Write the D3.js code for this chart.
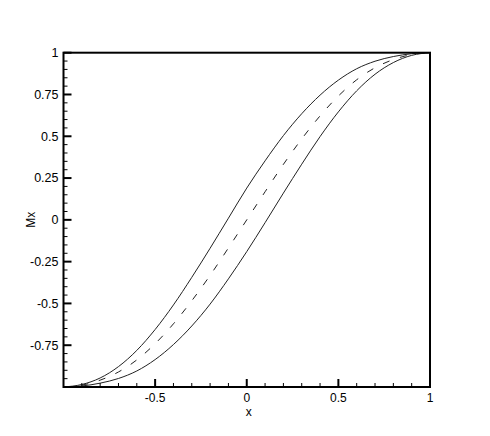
<!DOCTYPE html>
<html><head><meta charset="utf-8">
<script src="https://cdn.jsdelivr.net/npm/d3@7"></script>
<style>
html,body{margin:0;padding:0;background:#fff;}
svg text{font-family:"Liberation Sans",Arial,Helvetica,sans-serif;fill:#000;}
</style></head>
<body><svg id="c" width="490" height="436"></svg>
<script>
// data
const xs = [-1,-0.9,-0.8,-0.7,-0.6,-0.5,-0.4,-0.3,-0.2,-0.1,0,0.1,0.2,0.3,0.4,0.5,0.6,0.7,0.8,0.9,1];
const upperMx  = [-1,-0.985,-0.946,-0.878,-0.781,-0.656,-0.509,-0.344,-0.170,0.010,0.190,0.353,0.504,0.635,0.746,0.836,0.904,0.949,0.977,0.994,1];
const dashedMx = [-1,-0.989,-0.959,-0.910,-0.838,-0.741,-0.622,-0.484,-0.332,-0.168,0,0.168,0.332,0.484,0.622,0.741,0.838,0.910,0.959,0.989,1];
const lowerMx  = [-1,-0.994,-0.977,-0.949,-0.904,-0.836,-0.746,-0.635,-0.504,-0.353,-0.190,-0.017,0.160,0.333,0.498,0.646,0.772,0.871,0.941,0.984,1];
const xTickLabels = [-0.5,0,0.5,1];
const yTickLabels = [-0.75,-0.5,-0.25,0,0.25,0.5,0.75,1];
const xLabel = "x", yLabel = "Mx";

const svg = d3.select("#c");
const L = 63.5, R = 430, T = 52.7, B = 387;
const x = d3.scaleLinear().domain([-1,1]).range([L,R]);
const y = d3.scaleLinear().domain([-1,1]).range([B,T]);

const line = d3.line().x((d,i)=>x(xs[i])).y(d=>y(d)).curve(d3.curveMonotoneX);
const g = svg.append("g");
g.append("path").datum(upperMx).attr("d",line).attr("fill","none").attr("stroke","#222").attr("stroke-width",1);
g.append("path").datum(lowerMx).attr("d",line).attr("fill","none").attr("stroke","#222").attr("stroke-width",1);
g.append("path").datum(dashedMx).attr("d",line).attr("fill","none").attr("stroke","#222").attr("stroke-width",1).attr("stroke-dasharray","7,11");

// minor ticks
const xMinor = d3.range(-9,10).map(v=>v/10).filter(v=>Math.abs(v*2-Math.round(v*2))>1e-9);
const yMinor = d3.range(-19,20).map(v=>v/20).filter(v=>Math.abs(v*4-Math.round(v*4))>1e-9);
const tk = svg.append("g").attr("stroke","#000");
xMinor.forEach(v=>tk.append("line").attr("x1",x(v)).attr("x2",x(v)).attr("y1",B).attr("y2",B-4).attr("stroke-width",1));
yMinor.forEach(v=>tk.append("line").attr("y1",y(v)).attr("y2",y(v)).attr("x1",L).attr("x2",L+4).attr("stroke-width",1));
xTickLabels.forEach(v=>tk.append("line").attr("x1",x(v)).attr("x2",x(v)).attr("y1",B).attr("y2",B-8).attr("stroke-width",2));
yTickLabels.forEach(v=>tk.append("line").attr("y1",y(v)).attr("y2",y(v)).attr("x1",L).attr("x2",L+8).attr("stroke-width",2));

// frame
svg.append("rect").attr("x",L).attr("y",T).attr("width",R-L).attr("height",B-T)
  .attr("fill","none").attr("stroke","#000").attr("stroke-width",2);

// labels
const fmt = v => String(v);
svg.append("g").selectAll("text").data(xTickLabels).join("text")
  .attr("x",d=>x(d)).attr("y",B+15).attr("text-anchor","middle").attr("font-size",12).text(fmt);
svg.append("g").selectAll("text").data(yTickLabels).join("text")
  .attr("x",L-5).attr("y",d=>y(d)).attr("dy","0.35em").attr("text-anchor","end").attr("font-size",12.5).text(fmt);
svg.append("text").attr("x",(L+R)/2+2).attr("y",416).attr("text-anchor","middle").attr("font-size",12).text(xLabel);
svg.append("text").attr("transform",`translate(35,${(T+B)/2}) rotate(-90)`).attr("text-anchor","middle").attr("font-size",12)
  .attr("font-family","Liberation Serif").text(yLabel);
</script></body></html>
